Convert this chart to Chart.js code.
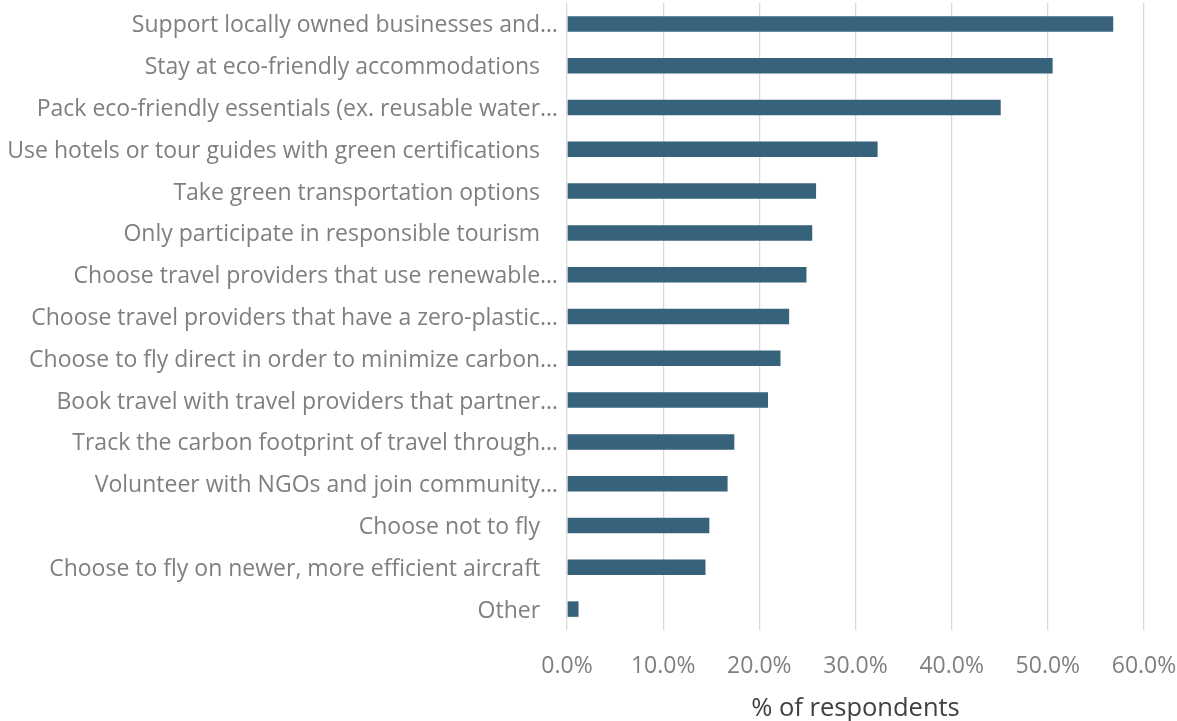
<!DOCTYPE html>
<html>
<head>
<meta charset="utf-8">
<title>Sustainable travel actions</title>
<script src="https://cdn.jsdelivr.net/npm/chart.js@4.4.1/dist/chart.umd.min.js"></script>
<style>
  html, body { margin: 0; padding: 0; background: #ffffff; }
  #wrap { width: 1177px; height: 721px; position: relative; }
</style>
</head>
<body>
<div id="wrap"><canvas id="chart"></canvas></div>
<script>
// Survey answers, top to bottom as drawn
const actions = [
    'Support locally owned businesses and…',
    'Stay at eco-friendly accommodations   ',
    'Pack eco-friendly essentials (ex. reusable water…',
    'Use hotels or tour guides with green certifications   ',
    'Take green transportation options   ',
    'Only participate in responsible tourism   ',
    'Choose travel providers that use renewable…',
    'Choose travel providers that have a zero-plastic…',
    'Choose to fly direct in order to minimize carbon…',
    'Book travel with travel providers that partner…',
    'Track the carbon footprint of travel through…',
    'Volunteer with NGOs and join community…',
    'Choose not to fly   ',
    'Choose to fly on newer, more efficient aircraft   ',
    'Other   '
];

// Share of respondents, in percent
const respondentShare = [56.8, 50.5, 45.1, 32.3, 25.9, 25.5, 24.9, 23.1, 22.2, 20.9, 17.4, 16.7, 14.8, 14.4, 1.2];

const axisTicks = [0, 10, 20, 30, 40, 50, 60];

const FONT = '"Open Sans", Lato, sans-serif';

const ctx = document.getElementById('chart');

new Chart(ctx, {
    type: 'bar',
    data: {
        labels: actions,
        datasets: [{
            label: '% of respondents',
            data: respondentShare,
            backgroundColor: '#36637b',
            borderWidth: 0,
            categoryPercentage: 1.0,
            barPercentage: 0.37
        }]
    },
    options: {
        indexAxis: 'y',
        responsive: true,
        maintainAspectRatio: false,
        animation: false,
        layout: {
            padding: { top: 3, right: 33, left: 0, bottom: 0 }
        },
        plugins: {
            legend: { display: false },
            tooltip: { enabled: false }
        },
        scales: {
            x: {
                min: axisTicks[0],
                max: axisTicks[axisTicks.length - 1],
                afterBuildTicks: axis => {
                    axis.ticks = axisTicks.map(v => ({ value: v }));
                },
                grid: {
                    color: '#d9d9d9',
                    lineWidth: 1.3,
                    drawTicks: false
                },
                border: { display: false },
                ticks: {
                    padding: 23,
                    color: '#7f7f7f',
                    font: { family: FONT, size: 23 },
                    callback: value => value.toFixed(1) + '%'
                },
                title: {
                    display: true,
                    text: '% of respondents',
                    color: '#404040',
                    font: { family: FONT, size: 25.5 },
                    padding: { top: 11, bottom: -3 }
                },
                afterFit: axis => {
                    axis.height = 91;
                    axis.paddingLeft = 0;
                    axis.paddingRight = 0;
                }
            },
            y: {
                grid: { display: false, drawTicks: false },
                border: { display: false },
                ticks: {
                    padding: 9,
                    labelOffset: 2,
                    color: '#7f7f7f',
                    font: { family: FONT, size: 23 },
                    autoSkip: false
                },
                afterFit: axis => {
                    axis.width = 567;
                    axis.paddingTop = 0;
                    axis.paddingBottom = 0;
                }
            }
        }
    }
});
</script>
</body>
</html>
